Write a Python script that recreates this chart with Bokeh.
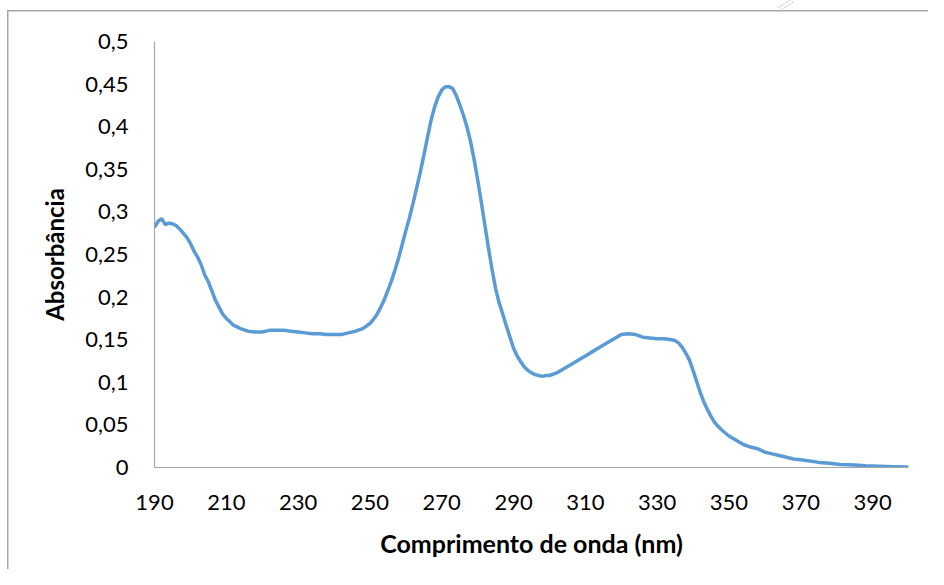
from bokeh.plotting import figure
from bokeh.models import Range1d, FixedTicker
from bokeh.embed import file_html
from bokeh.resources import INLINE

# wavelength (nm) and absorbance
wavelength = [190, 191, 192, 193, 194, 195, 196, 197, 198, 199, 200, 201, 202, 203, 204, 205,
              206, 207, 208, 209, 210, 211, 212, 213, 214, 216, 218, 220, 222, 224, 226, 228,
              230, 232, 234, 236, 238, 240, 242, 244, 246, 248, 249, 250, 251, 252, 253, 254,
              255, 256, 257, 258, 259, 260, 261, 262, 263, 264, 265, 266, 267, 268, 269, 270,
              271, 272, 273, 274, 275, 276, 277, 278, 279, 280, 281, 282, 283, 284, 285, 286,
              287, 288, 289, 290, 291, 292, 293, 294, 295, 296, 297, 298, 299, 300, 302, 304,
              306, 308, 310, 312, 314, 316, 318, 320, 322, 324, 326, 328, 330, 332, 334, 335,
              336, 337, 338, 339, 340, 341, 342, 343, 344, 345, 346, 347, 348, 350, 352, 354,
              356, 358, 360, 362, 364, 366, 368, 370, 372, 375, 378, 381, 385, 388, 392, 396, 400]
absorbance = [0.282, 0.289, 0.292, 0.285, 0.287, 0.286, 0.284, 0.280, 0.275, 0.270, 0.263, 0.254,
              0.247, 0.238, 0.226, 0.218, 0.207, 0.196, 0.188, 0.180, 0.175, 0.171, 0.167, 0.165,
              0.163, 0.160, 0.159, 0.159, 0.161, 0.161, 0.161, 0.160, 0.159, 0.158, 0.157, 0.157,
              0.156, 0.156, 0.156, 0.158, 0.160, 0.163, 0.166, 0.169, 0.174, 0.180, 0.188, 0.197,
              0.208, 0.219, 0.232, 0.246, 0.262, 0.278, 0.293, 0.310, 0.328, 0.346, 0.366, 0.387,
              0.407, 0.423, 0.435, 0.443, 0.447, 0.447, 0.445, 0.437, 0.426, 0.414, 0.400, 0.383,
              0.362, 0.338, 0.312, 0.285, 0.258, 0.233, 0.210, 0.193, 0.180, 0.166, 0.153, 0.140,
              0.131, 0.124, 0.118, 0.114, 0.111, 0.109, 0.108, 0.107, 0.108, 0.108, 0.111, 0.116,
              0.121, 0.126, 0.131, 0.136, 0.141, 0.146, 0.151, 0.156, 0.157, 0.156, 0.153, 0.152,
              0.151, 0.151, 0.150, 0.149, 0.146, 0.141, 0.134, 0.126, 0.114, 0.101, 0.088, 0.077,
              0.068, 0.060, 0.053, 0.048, 0.044, 0.037, 0.032, 0.027, 0.024, 0.022, 0.018, 0.016,
              0.014, 0.012, 0.010, 0.009, 0.008, 0.006, 0.005, 0.0035, 0.003, 0.002, 0.0015,
              0.001, 0.0005]

x_ticks = [190, 210, 230, 250, 270, 290, 310, 330, 350, 370, 390]
y_ticks = [0, 0.05, 0.1, 0.15, 0.2, 0.25, 0.3, 0.35, 0.4, 0.45, 0.5]
y_tick_labels = ["0", "0,05", "0,1", "0,15", "0,2", "0,25", "0,3", "0,35", "0,4", "0,45", "0,5"]

x_title = "Comprimento de onda (nm)"
y_title = "Absorbância"

GRAY = "#a6a6a6"
LIGHT = "#c8c8c8"

p = figure(width=928, height=569, output_backend="svg", toolbar_location=None,
           x_range=Range1d(190, 400), y_range=Range1d(0, 0.5),
           min_border_left=154, min_border_right=20, min_border_top=41, min_border_bottom=102)

p.line(wavelength, absorbance, line_color="#5b9bd5", line_width=3.5)

p.xgrid.visible = False
p.ygrid.visible = False
p.outline_line_color = None
p.background_fill_color = None
p.border_fill_color = None

FONT = "Lato"
for ax in (p.xaxis[0], p.yaxis[0]):
    ax.axis_line_color = GRAY
    ax.axis_line_width = 1.2
    ax.major_tick_line_color = None
    ax.minor_tick_line_color = None
    ax.major_label_text_font = FONT
    ax.major_label_text_font_size = "22px"
    ax.major_label_text_color = "#000000"
    ax.axis_label_text_font = FONT
    ax.axis_label_text_font_size = "25px"
    ax.axis_label_text_font_style = "bold"
    ax.axis_label_text_color = "#000000"
p.yaxis.axis_label_text_font_size = "24px"

p.xaxis.ticker = FixedTicker(ticks=x_ticks)
p.yaxis.ticker = FixedTicker(ticks=y_ticks)
p.yaxis.major_label_overrides = {t: lab for t, lab in zip(y_ticks, y_tick_labels)}
p.xaxis.major_label_standoff = 21
p.yaxis.major_label_standoff = 20
p.xaxis.axis_label = x_title
p.yaxis.axis_label = y_title
p.xaxis.axis_label_standoff = 15
p.yaxis.axis_label_standoff = 13

# outer chart-area frame (left and top edges) and the small double stroke above it,
# drawn as the background behind the transparent canvas
diag = (f"linear-gradient(to bottom right, transparent 36%, {LIGHT} 39%, transparent 43%, "
        f"transparent 55%, {LIGHT} 58%, transparent 62%)")
p.styles = {
    "background-color": "#ffffff",
    "background-image": f"linear-gradient({GRAY}, {GRAY}), linear-gradient({GRAY}, {GRAY}), {diag}",
    "background-size": "1.5px 100%, 100% 1.5px, 16px 10px",
    "background-position": "7px 10px, 7px 10px, 778px 0px",
    "background-repeat": "no-repeat",
}

open("out.html", "w").write(file_html(p, INLINE))
